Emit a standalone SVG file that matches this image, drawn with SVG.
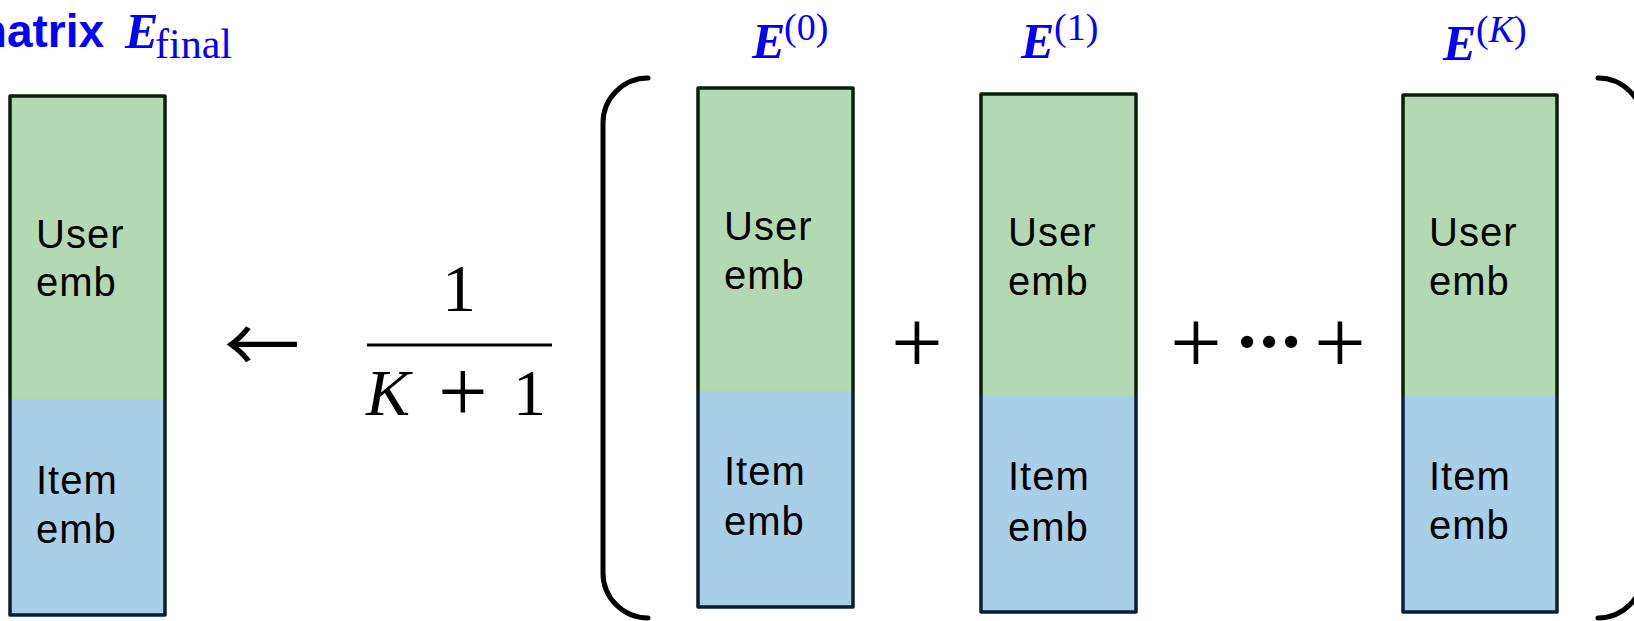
<svg xmlns="http://www.w3.org/2000/svg" width="1634" height="621" viewBox="0 0 1634 621">
<style>
.u{fill:#B3D9B2}
.i{fill:#A9CEE8}
.ou{fill:none;stroke:#0A1F0A;stroke-width:3.5;stroke-linejoin:round}
.oi{fill:none;stroke:#0A1E33;stroke-width:3.5;stroke-linejoin:round}
.t{font-family:"Liberation Sans",Arial,sans-serif;font-size:40px;letter-spacing:1px;fill:#000}
.lab{font-family:"Liberation Serif","Times New Roman",serif;fill:#0000FF}
.m{font-family:"Liberation Serif","Times New Roman",serif;fill:#000}
.br{fill:none;stroke:#000;stroke-width:5;stroke-linecap:round}
</style>
<g id="title">
<text x="-34" y="47" font-family="Liberation Sans,Arial,sans-serif" font-weight="bold" font-size="46" fill="#0000FF">matrix</text>
<text class="lab" x="125" y="48" font-size="50" font-weight="bold" font-style="italic">E</text>
<text class="lab" x="155" y="58" font-size="42">final</text>
</g>
<g id="node-final">
<rect class="u" x="10" y="96" width="155" height="303"/>
<rect class="i" x="10" y="399" width="155" height="216"/>
<path class="ou" d="M10 399V96H165V399"/>
<path class="oi" d="M10 399V615H165V399"/>
<text class="t" x="36" y="248">User</text>
<text class="t" x="36" y="296">emb</text>
<text class="t" x="36" y="494">Item</text>
<text class="t" x="36" y="543">emb</text>
</g>
<g id="arrow">
<text x="262" y="373" font-family="Noto Sans CJK JP,sans-serif" font-size="76" text-anchor="middle" fill="#000">←</text>
</g>
<g id="fraction">
<text class="m" x="459" y="311" font-size="68" text-anchor="middle">1</text>
<line x1="367" y1="345" x2="552" y2="345" stroke="#000" stroke-width="3"/>
<text class="m" y="415" font-size="66"><tspan x="366" font-style="italic">K</tspan><tspan x="438" y="421" font-size="88">+</tspan><tspan x="513" y="415">1</tspan></text>
</g>
<g id="brackets">
<path class="br" d="M648 78A45 45 0 0 0 603 123V573A45 45 0 0 0 648 618"/>
<path class="br" d="M1598 78A45 45 0 0 1 1643 123V573A45 45 0 0 1 1598 618"/>
</g>
<g id="node-e0">
<text class="lab" y="58"><tspan x="752" font-size="50" font-weight="bold" font-style="italic">E</tspan><tspan x="784" y="40" font-size="38">(0)</tspan></text>
<rect class="u" x="698" y="88" width="155" height="303"/>
<rect class="i" x="698" y="391" width="155" height="216"/>
<path class="ou" d="M698 391V88H853V391"/>
<path class="oi" d="M698 391V607H853V391"/>
<text class="t" x="724" y="240">User</text>
<text class="t" x="724" y="289">emb</text>
<text class="t" x="724" y="485">Item</text>
<text class="t" x="724" y="535">emb</text>
</g>
<g id="plus1">
<text class="m" x="917" y="373" font-size="92" text-anchor="middle">+</text>
</g>
<g id="node-e1">
<text class="lab" y="58"><tspan x="1021" font-size="50" font-weight="bold" font-style="italic">E</tspan><tspan x="1054" y="40" font-size="38">(1)</tspan></text>
<rect class="u" x="981" y="94" width="155" height="301"/>
<rect class="i" x="981" y="395" width="155" height="217"/>
<path class="ou" d="M981 395V94H1136V395"/>
<path class="oi" d="M981 395V612H1136V395"/>
<text class="t" x="1008" y="246">User</text>
<text class="t" x="1008" y="295">emb</text>
<text class="t" x="1008" y="490">Item</text>
<text class="t" x="1008" y="541">emb</text>
</g>
<g id="plus-dots">
<text class="m" y="373" font-size="92" text-anchor="middle"><tspan x="1196">+</tspan><tspan x="1340">+</tspan></text>
<text class="m" y="376" font-size="104" text-anchor="middle"><tspan x="1247">·</tspan><tspan x="1269">·</tspan><tspan x="1291">·</tspan></text>
</g>
<g id="node-ek">
<text class="lab" y="60"><tspan x="1443" font-size="50" font-weight="bold" font-style="italic">E</tspan><tspan x="1476" y="42" font-size="38">(<tspan font-style="italic">K</tspan>)</tspan></text>
<rect class="u" x="1403" y="95" width="154" height="301"/>
<rect class="i" x="1403" y="396" width="154" height="216"/>
<path class="ou" d="M1403 396V95H1557V396"/>
<path class="oi" d="M1403 396V612H1557V396"/>
<text class="t" x="1429" y="246">User</text>
<text class="t" x="1429" y="295">emb</text>
<text class="t" x="1429" y="490">Item</text>
<text class="t" x="1429" y="539">emb</text>
</g>
<g id="connectors"></g>
</svg>
